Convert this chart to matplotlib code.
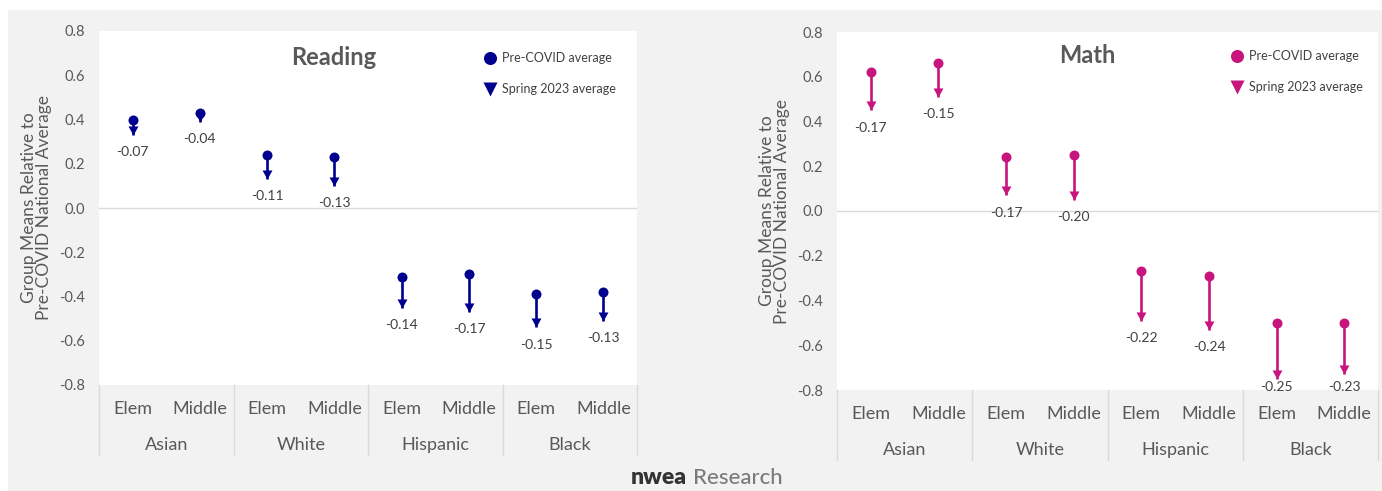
import matplotlib.pyplot as plt
from matplotlib.patches import Rectangle
from matplotlib.path import Path

plt.rcParams['font.family'] = ['Lato', 'DejaVu Sans']

groups = ["Asian", "White", "Hispanic", "Black"]
levels = ["Elem", "Middle"]

# pre-COVID group means and the change to spring 2023
reading_pre = [0.40, 0.43, 0.24, 0.23, -0.31, -0.30, -0.39, -0.38]
reading_change = [-0.07, -0.04, -0.11, -0.13, -0.14, -0.17, -0.15, -0.13]
math_pre = [0.62, 0.66, 0.24, 0.25, -0.27, -0.29, -0.50, -0.50]
math_change = [-0.17, -0.15, -0.17, -0.20, -0.22, -0.24, -0.25, -0.23]

ticks = [0.8, 0.6, 0.4, 0.2, 0.0, -0.2, -0.4, -0.6, -0.8]

W, H = 1382, 491
BG = '#f2f2f2'
TXT = '#595959'
NAVY = '#00008f'
PINK = '#c8157e'

# down triangle with its tip on the data point
tip_down = Path([(-0.55, 1.0), (0.55, 1.0), (0.0, 0.0), (-0.55, 1.0)],
                [Path.MOVETO, Path.LINETO, Path.LINETO, Path.CLOSEPOLY])

fig = plt.figure(figsize=(W / 100, H / 100), dpi=100, facecolor=BG)
fig.patches.append(Rectangle((0, 1 - 10 / H), 1, 10 / H, transform=fig.transFigure,
                             facecolor='white', edgecolor='none', zorder=0))
fig.patches.append(Rectangle((0, 0), 8 / W, 1, transform=fig.transFigure,
                             facecolor='white', edgecolor='none', zorder=0))


def px_box(x0, x1, y0, y1):
    return [x0 / W, (H - y1) / H, (x1 - x0) / W, (y1 - y0) / H]


def panel(box, title, pre, change, color, title_x, leg_x, leg_tx, leg_y):
    ax = fig.add_axes(px_box(*box))
    hpx = box[3] - box[2]
    ax.set_facecolor('white')
    ax.set_xlim(-0.5, 7.5)
    ax.set_ylim(-0.8, 0.8)
    for s in ax.spines.values():
        s.set_visible(False)
    ax.axhline(0, color='#d9d9d9', lw=1, zorder=1)
    ax.set_yticks(ticks)
    ax.set_yticklabels(['%.1f' % t for t in ticks])
    ax.tick_params(axis='y', length=0, pad=10, labelsize=10.5, labelcolor=TXT)
    ax.set_xticks([])
    ax.set_ylabel('Group Means Relative to\nPre-COVID National Average',
                  fontsize=12.5, color=TXT, labelpad=5, linespacing=0.95)

    for i, (s, d) in enumerate(zip(pre, change)):
        e = s + d
        ax.plot([i, i], [s, e], color=color, lw=1.9, zorder=3, solid_capstyle='butt')
        ax.plot(i, s, 'o', color=color, ms=7.2, mec='none', zorder=4)
        ax.plot(i, e, marker=tip_down, color=color, ms=13, mec='none', ls='none', zorder=4)
        lab = max(e - 0.077, -0.785)
        ax.text(i, lab, '%.2f' % d, ha='center', va='center', fontsize=10,
                color='#404040', zorder=5)

    # two-level category axis
    tr = ax.get_xaxis_transform()
    for i in range(8):
        ax.text(i, -24 / hpx, levels[i % 2], transform=tr, ha='center', va='center',
                fontsize=13, color=TXT)
    for g, name in enumerate(groups):
        ax.text(2 * g + 0.5, -60 / hpx, name, transform=tr, ha='center', va='center',
                fontsize=13, color=TXT)
    for b in [-0.5, 1.5, 3.5, 5.5, 7.5]:
        ax.plot([b, b], [0, -70 / hpx], transform=tr, color='#d9d9d9', lw=1,
                clip_on=False)

    ax.text(title_x, leg_y[0], title, transform=ax.transAxes, ha='center', va='center',
            fontsize=17, fontweight='bold', color=TXT)
    ax.plot(leg_x, leg_y[0], 'o', transform=ax.transAxes, color=color, ms=9.4,
            mec='none', clip_on=False)
    ax.plot(leg_x, leg_y[1], 'v', transform=ax.transAxes, color=color, ms=9.5,
            mec='none', clip_on=False)
    ax.text(leg_tx, leg_y[0], 'Pre-COVID average', transform=ax.transAxes,
            va='center', fontsize=9, color='#404040')
    ax.text(leg_tx, leg_y[1], 'Spring 2023 average', transform=ax.transAxes,
            va='center', fontsize=9, color='#404040')
    return ax


panel((99, 637, 31, 385), 'Reading', reading_pre, reading_change, NAVY,
      0.437, 0.727, 0.749, (0.924, 0.836))
panel((837, 1378, 32, 390), 'Math', math_pre, math_change, PINK,
      0.462, 0.739, 0.762, (0.933, 0.846))

fig.text(687 / W, 1 - 478 / H, 'nwea', ha='right', va='center', fontsize=16.5,
         fontweight='heavy', color='#333333')
fig.text(693 / W, 1 - 478 / H, 'Research', ha='left', va='center', fontsize=16,
         fontweight='medium', color='#7a7a7a')

fig.savefig('out.png', dpi=100, facecolor=BG)
